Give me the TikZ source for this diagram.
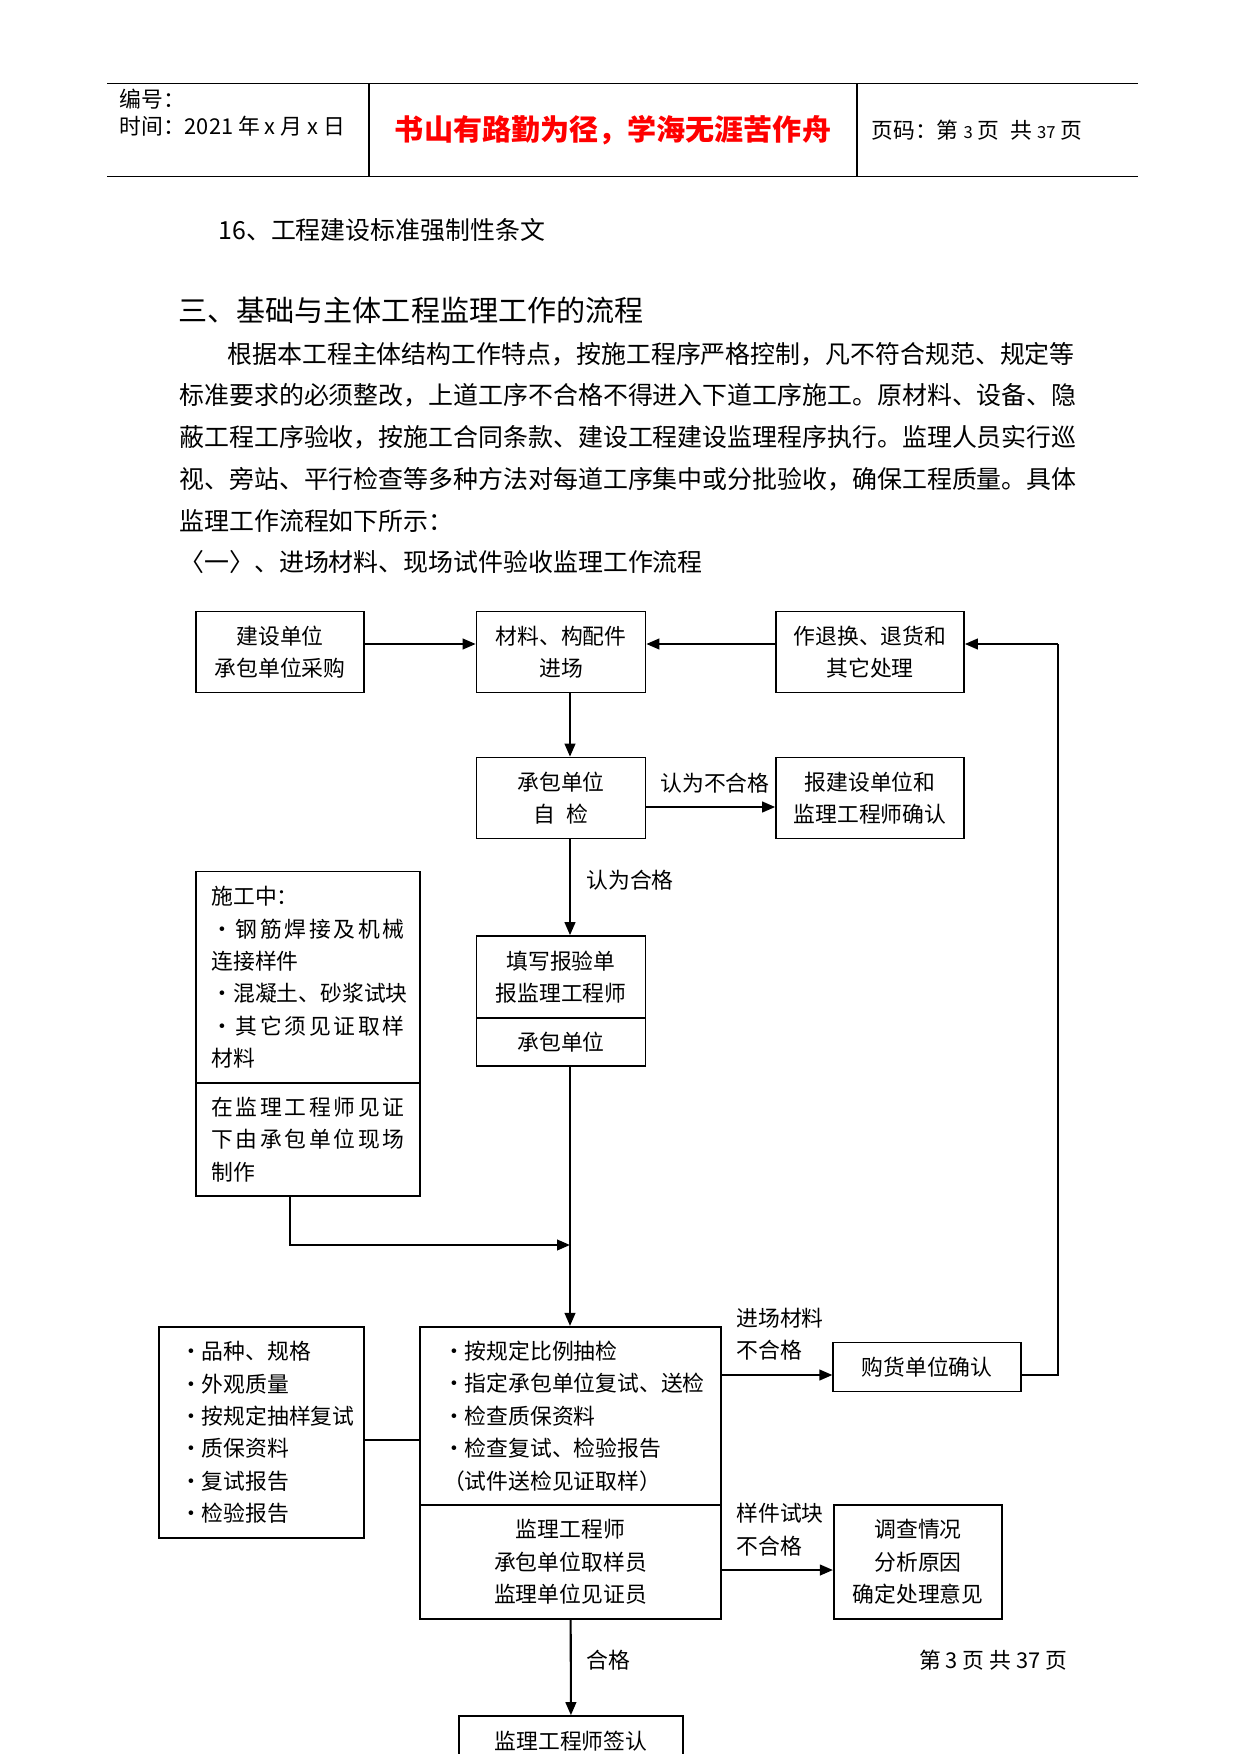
\documentclass[tikz,border=0pt]{standalone}
\usepackage{fontspec}
\setmainfont{Noto Sans CJK SC}
\usetikzlibrary{arrows.meta}
\newlength\pxu
\setlength\pxu{0.16922mm}
\newcommand\boxfont{\fontsize{10.5}{15.6}\selectfont}
\newcommand\bodyfont{\fontsize{12}{20}\selectfont}
\ExplSyntaxOn
\NewDocumentCommand\jl{mm}{\makebox[#1\pxu][s]{\tl_map_inline:nn{#2}{##1\hfil}\unskip}}
\ExplSyntaxOff
\tikzset{
    box/.style 2 args={draw, line width=0.8pt, minimum width=#1\pxu, minimum height=#2\pxu,
        inner sep=0pt, align=center, font=\boxfont},
    lbox/.style n args={3}{box={#1}{#2}, align=left, text width=#3\pxu},
    flow/.style={line width=1pt, -{Triangle[length=2.2mm,width=1.8mm]}},
    plain/.style={line width=0.5pt},
    lbl/.style={inner sep=0pt, font=\boxfont, align=left},
    txt/.style={inner sep=0pt, anchor=west, font=\bodyfont},
}
\begin{document}
\begin{tikzpicture}[x=0.16922mm, y=-0.16922mm]
\useasboundingbox (0,0) rectangle (1241,1754);

% page head
\draw[plain] (107,83.4) -- (1138,83.4);
\draw[plain] (107,176.4) -- (1138,176.4);
\draw[plain] (369,83.4) -- (369,176.4);
\draw[plain] (857,83.4) -- (857,176.4);
\node[lbl, anchor=west] (hdNo) at (119,98.7) {编号：};
\node[lbl, anchor=west] (hdDate) at (119,126) {时间：2021 年 x 月 x 日};
\node[inner sep=0pt, text=red, font=\fontsize{14}{16}\selectfont\bfseries] (hdMotto) at (613,130) {书山有路勤为径，学海无涯苦作舟};
\node[lbl, anchor=west] (hdPage) at (871,130) {页码：第 {\footnotesize 3} 页\enspace 共 {\footnotesize 37} 页};

% body text
\node[txt] (item16) at (218,229.6) {16、工程建设标准强制性条文};
\node[txt, font=\fontsize{14}{20}\selectfont] (secTitle) at (178,310) {三、基础与主体工程监理工作的流程};
\node[txt] (par1) at (227,354) {根据本工程主体结构工作特点，按施工程序严格控制，凡不符合规范、规定等};
\node[txt] (par2) at (179,395) {标准要求的必须整改，上道工序不合格不得进入下道工序施工。原材料、设备、隐};
\node[txt] (par3) at (179,437) {蔽工程工序验收，按施工合同条款、建设工程建设监理程序执行。监理人员实行巡};
\node[txt] (par4) at (179,479) {视、旁站、平行检查等多种方法对每道工序集中或分批验收，确保工程质量。具体};
\node[txt] (par5) at (179,521) {监理工作流程如下所示：};
\node[txt] (subTitle) at (179,562) {〈一〉、进场材料、现场试件验收监理工作流程};

% flow chart
\coordinate (spine) at (570,0);
\coordinate (fb) at (1058,0);
\coordinate (row1) at (0,644);
\coordinate (row2) at (0,807);
\coordinate (row3) at (0,1375);
\coordinate (row4) at (0,1570);
\coordinate (row5) at (0,1440);
\node[box={168}{81}] (buyer) at (280,652) {建设单位\\承包单位采购};
\node[box={169}{81}] (arrive) at (561,652) {材料、构配件\\进场};
\node[box={188}{81}] (returns) at (870,652) {作退换、退货和\\其它处理};
\node[box={169}{81}] (selfchk) at (561,798) {承包单位\\自\enspace 检};
\node[box={188}{81}] (report) at (870,798) {报建设单位和\\监理工程师确认};
\node[box={169}{82}] (formTop) at (561,977) {填写报验单\\报监理工程师};
\node[box={169}{48}] (formBot) at (561,1042) {承包单位};
\node[lbox={224.5}{211.4}{193}] (siteTop) at (308,977.3) {%
    \mbox{施工中：}\\
    \jl{193}{•钢筋焊接及机械}\\
    \mbox{连接样件}\\
    \jl{193}{•混凝土、砂浆试块}\\
    \jl{193}{•其它须见证取样}\\
    \mbox{材料}};
\node[lbox={224.5}{113}{193}] (siteBot) at (308,1139.5) {%
    \jl{193}{在监理工程师见证}\\
    \jl{193}{下由承包单位现场}\\
    \mbox{制作}};
\node[lbox={301}{178.5}{255}] (checkTop) at (570.5,1416) {%
    \mbox{•按规定比例抽检}\\
    \mbox{•指定承包单位复试、送检}\\
    \mbox{•检查质保资料}\\
    \mbox{•检查复试、检验报告}\\
    \mbox{（试件送检见证取样）}};
\node[box={301}{113.5}] (checkBot) at (570.5,1562) {监理工程师\\承包单位取样员\\监理单位见证员};
\node[lbox={205}{211}{163}] (items) at (261.5,1432.5) {%
    \mbox{•品种、规格}\\
    \mbox{•外观质量}\\
    \mbox{•按规定抽样复试}\\
    \mbox{•质保资料}\\
    \mbox{•复试报告}\\
    \mbox{•检验报告}};
\node[box={187.5}{49}] (vendor) at (927,1367) {购货单位确认};
\node[box={168.5}{113.5}] (probe) at (918,1562) {调查情况\\分析原因\\确定处理意见};
\node[box={224}{50}] (sign) at (571,1741) {监理工程师签认};

\node[lbl] (lblNG) at (715,783) {认为不合格};
\node[lbl] (lblOK) at (630,880) {认为合格};
\node[lbl, anchor=west] (lblMat) at (736,1334.5) {进场材料\\不合格};
\node[lbl, anchor=west] (lblSmp) at (736,1529.5) {样件试块\\不合格};
\node[lbl] (lblPass) at (608,1660) {合格};
\node[lbl] (pageFoot) at (993,1660) {第 3 页 共 37 页};

\draw[flow] (buyer.east |- row1) -- (arrive.west |- row1);
\draw[flow] (returns.west |- row1) -- (arrive.east |- row1);
\draw[flow] (arrive.south -| spine) -- (selfchk.north -| spine);
\draw[flow] (selfchk.east |- row2) -- (report.west |- row2);
\draw[flow] (selfchk.south -| spine) -- (formTop.north -| spine);
\draw[flow] (formBot.south -| spine) -- (checkTop.north -| spine);
\coordinate (drop) at (290,1245);
\draw[flow] (siteBot.south -| drop) -- (drop) -- (drop -| spine);
\draw[plain] (items.east |- row5) -- (checkTop.west |- row5);
\draw[flow] (checkTop.east |- row3) -- (vendor.west |- row3);
\draw[plain] (vendor.east |- row3) -- (fb |- row3) -- (fb |- row1);
\draw[flow] (fb |- row1) -- (returns.east |- row1);
\draw[flow] (checkBot.east |- row4) -- (probe.west |- row4);
\draw[flow] (checkBot) -- (sign);
\end{tikzpicture}
\end{document}
